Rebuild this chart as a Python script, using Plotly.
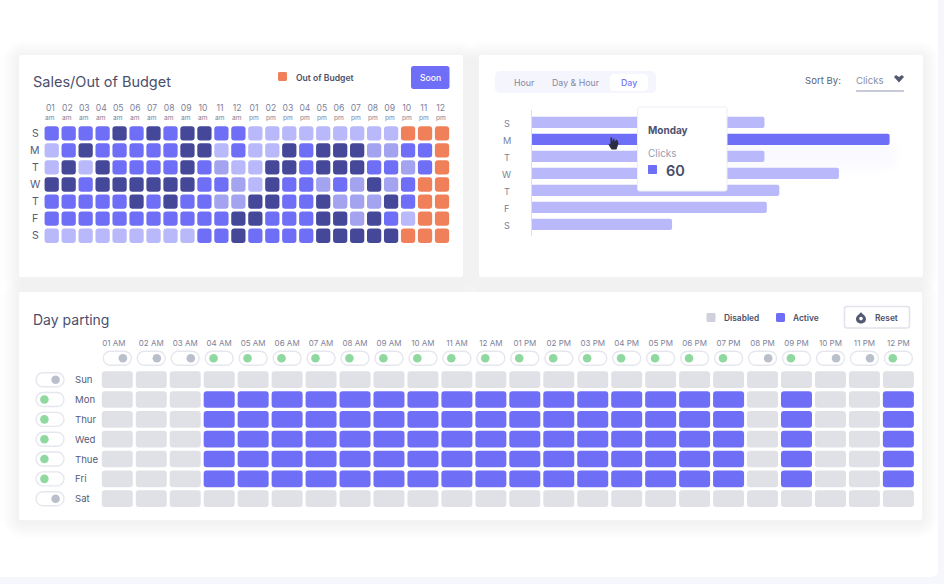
import plotly.graph_objects as go

W, H = 944, 584
FONT = "Inter"
INK = "#4a4f6b"
MUTED = "#7d8299"

# ---------- Sales / Out of Budget ----------
hours_top = ["01","02","03","04","05","06","07","08","09","10","11","12"] * 2
periods_top = ["am"] * 12 + ["pm"] * 12
days_top = ["S", "M", "T", "W", "T", "F", "S"]
# 1 light, 2 soft, 3 main, 4 dark, 5 out of budget
sun_levels = [3,3,3,3,4,3,4,3,4,4,3,3,1,1,1,1,1,1,1,1,1,5,5,5]
mon_levels = [1,3,4,3,3,3,3,3,4,4,1,3,1,1,4,3,4,4,4,2,2,3,3,5]
tue_levels = [1,4,1,4,3,3,3,3,4,3,2,1,1,4,4,3,4,4,4,3,3,2,3,5]
wed_levels = [4,4,3,4,4,4,4,4,4,3,3,2,1,4,3,3,2,3,2,4,2,3,5,5]
thu_levels = [3,3,3,3,3,4,3,4,3,3,2,2,4,4,3,3,4,2,2,2,4,3,5,5]
fri_levels = [3,3,3,3,3,3,3,3,3,3,3,4,4,3,3,3,4,4,2,4,3,1,5,5]
sat_levels = [1,1,1,1,1,1,1,1,1,3,3,4,3,3,3,3,4,4,4,4,4,5,5,5]
level_rows = [sun_levels, mon_levels, tue_levels, wed_levels, thu_levels, fri_levels, sat_levels]
level_colors = {1: "#b8b8fb", 2: "#a3a3f0", 3: "#6f6ef7", 4: "#454898", 5: "#ef8059"}

# ---------- Clicks by day ----------
days_bar = ["S", "M", "T", "W", "T", "F", "S"]
clicks = [39, 60, 39, 51.5, 41.5, 39.4, 23.5]
highlight_day = 1

# ---------- Day parting ----------
hours_part = ["01 AM","02 AM","03 AM","04 AM","05 AM","06 AM","07 AM","08 AM","09 AM","10 AM","11 AM","12 AM",
              "01 PM","02 PM","03 PM","04 PM","05 PM","06 PM","07 PM","08 PM","09 PM","10 PM","11 PM","12 PM"]
days_part = ["Sun", "Mon", "Thur", "Wed", "Thue", "Fri", "Sat"]
hour_toggle = [0,0,0,1,1,1,1,1,1,1,1,1,1,1,1,1,1,1,1,0,1,0,0,1]
day_toggle = [0,1,1,1,1,1,0]
off_row = [0] * 24
on_row = [0,0,0,1,1,1,1,1,1,1,1,1,1,1,1,1,1,1,1,0,1,0,0,1]
active_rows = [off_row, on_row, on_row, on_row, on_row, on_row, off_row]
ACTIVE, DISABLED = "#6f6ef7", "#e0e1e6"
ON_DOT, OFF_DOT = "#8fd9a0", "#b9c0cc"


def X(p): return p / W
def Y(p): return 1 - p / H


K = 0.5523
def rr_path(w, h, r):
    a, b = w / 2, h / 2
    c = r * (1 - K)
    return (f"M {-a+r},{-b} L {a-r},{-b} C {a-c},{-b} {a},{-b+c} {a},{-b+r} "
            f"L {a},{b-r} C {a},{b-c} {a-c},{b} {a-r},{b} "
            f"L {-a+r},{b} C {-a+c},{b} {-a},{b-c} {-a},{b-r} "
            f"L {-a},{-b+r} C {-a},{-b+c} {-a+c},{-b} {-a+r},{-b} Z")


shapes = []
def px_shape(cx, cy, path, fill, line=None, lw=0, layer="below", opacity=1):
    shapes.append(dict(type="path", xref="paper", yref="paper", xsizemode="pixel", ysizemode="pixel",
                       xanchor=X(cx), yanchor=Y(cy), path=path, fillcolor=fill, layer=layer, opacity=opacity,
                       line=dict(color=line or "rgba(0,0,0,0)", width=lw)))


def rr(x0, y0, x1, y1, r, fill, line=None, lw=0, layer="below", opacity=1):
    px_shape((x0 + x1) / 2, (y0 + y1) / 2, rr_path(x1 - x0, y1 - y0, r), fill, line, lw, layer, opacity)


texts = []
def label(x, y, s, size=9, color=INK, anchor="left", weight=400):
    texts.append(dict(x=X(x), y=Y(y), xref="paper", yref="paper", text=s, showarrow=False, xanchor=anchor,
                      yanchor="middle", font=dict(family=FONT, size=size, color=color, weight=weight),
                      borderpad=0, borderwidth=0))


def soft(x0, y0, x1, y1, r=4, layer="below", steps=6, spread=2.6, dy=2, alpha=0.006, color="#000000"):
    for i in range(steps, 0, -1):
        g = i * spread
        rr(x0 - g, y0 - g + dy, x1 + g, y1 + g + dy, r + g, color, layer=layer, opacity=alpha)


# page
rr(-12, -12, 938, 577, 7, "#ffffff")

# cards
for box in [(19, 55, 463, 277), (479, 55, 923, 277), (19, 292, 922, 520)]:
    soft(*box)
    rr(*box, 2, "#ffffff")

# ---- panel 1 furniture
label(33, 82.5, "Sales/Out of Budget", 14.5)
rr(278, 72, 287, 81, 1.5, level_colors[5])
label(295.5, 77.5, "Out of Budget", 8.6, "#4b5068", weight=600)
rr(411, 66, 449.5, 89, 2.5, "#6f6ef7")
label(430, 77.5, "Soon", 8.6, "#ffffff", "center", 500)

# ---- panel 2 furniture
rr(495, 71, 656, 93, 5, "#f5f5fe")
rr(610, 74, 648, 91, 4, "#ffffff")
label(524.5, 83, "Hour", 8.8, "#8388a0", "center")
label(576, 83, "Day & Hour", 8.8, "#8388a0", "center")
label(629, 83, "Day", 8.8, "#7676f5", "center", 500)
label(804.5, 80.5, "Sort By:", 9.6, "#5a5f78")
label(856, 80.5, "Clicks", 9.6, "#8a8ea3")
rr(856, 90, 904, 92, 0.5, "#c7cad8")
px_shape(899, 79, "M -5,2 L -3,4 L 0,2 L 3,4 L 5,2 L 0,-3.5 Z", "#545972")

# soft glow beneath the highlighted bar and tooltip
soft(640, 146, 885, 155, 6, steps=6, spread=3, dy=3, alpha=0.005, color="#5a5ae0")
rr(637.5, 107, 727, 191, 2, "#ffffff", "#eceef4", 1, layer="above")
rr(648, 165, 657, 174, 1, "#6f6ef7", layer="above")
label(648, 130.5, "Monday", 10, "#4d5270", weight=700)
label(648, 153, "Clicks", 10, "#9a9db0")
label(665.5, 170.5, "60", 14.5, "#474c68", weight=600)
# pointer
px_shape(613.5, 143.5,
         "M -3,6 L -1.5,6 L -1,2 L 0,5 L 1,5 L 1,2 L 3,4 L 4,3 L 5,0 L 4,-3 L 3,-6 L -2,-6 L -5,-1 L -4,0 L -3,-1 Z",
         "#2b2d42", layer="above")

# ---- panel 3 furniture
label(33, 319.5, "Day parting", 14)
rr(706.5, 313, 715.5, 322, 1.5, "#cfd0dc")
label(723.5, 318, "Disabled", 8.4, "#4b5068", weight=600)
rr(776, 313, 785, 322, 1.5, "#6f6ef7")
label(793, 318, "Active", 8.4, "#4b5068", weight=600)
rr(844.5, 306.5, 909.5, 328, 2.5, "#ffffff", "#e1e4ec", 1.6)
px_shape(861, 318, "M 0,6 C 1,4 5,2.5 5,-1 C 5,-4 2.5,-5.5 0,-5.5 C -2.5,-5.5 -5,-4 -5,-1 C -5,2.5 -1,4 0,6 Z", "#545a74")
px_shape(861, 318.5, rr_path(3.6, 3.6, 1.8), "#ffffff")
label(875, 318, "Reset", 8.4, "#4b5068", weight=600)

fig = go.Figure()


def cells(xaxis, yaxis, cols, rows, colors, width, height, radius):
    """One floating bar per cell: a bar with a base rounds both of its ends."""
    fig.add_trace(go.Bar(x=cols, y=[height] * len(cols), base=[r - height / 2 for r in rows], width=width,
                         marker=dict(color=colors, line=dict(width=0), cornerradius=radius),
                         xaxis=xaxis, yaxis=yaxis, showlegend=False, hoverinfo="skip"))


# ---- panel 1 grid
c1, r1, col_fill = [], [], []
for r, row in enumerate(level_rows):
    for c, v in enumerate(row):
        c1.append(c); r1.append(r); col_fill.append(level_colors[v])
cells("x", "y", c1, r1, col_fill, 0.84, 0.84, 3)

# pitch 16.97 x 17.07 px, first cell centre (51.7, 133.3)
P1X, P1Y, O1X, O1Y = 16.97, 17.07, 51.7, 133.3
x1_d = (40, 452); y1_d = (113.5, 246)
rng = lambda a, o, p: (a - o) / p
xaxis1 = dict(domain=[X(x1_d[0]), X(x1_d[1])], range=[rng(x1_d[0], O1X, P1X), rng(x1_d[1], O1X, P1X)],
              side="top", anchor="y", tickmode="array", tickvals=[c - 0.08 for c in range(24)], ticktext=hours_top,
              tickfont=dict(family=FONT, size=8.6, color=MUTED), showgrid=False, zeroline=False, ticklen=0)
yaxis1 = dict(domain=[Y(y1_d[1]), Y(y1_d[0])], range=[rng(y1_d[1], O1Y, P1Y), rng(y1_d[0], O1Y, P1Y)],
              anchor="x", showgrid=False, zeroline=False, showticklabels=False, ticklen=0)
for c, s in enumerate(periods_top):
    texts.append(dict(x=c - 0.08, y=(117.7 - O1Y) / P1Y, xref="x", yref="y", text=s, showarrow=False, xanchor="center",
                      font=dict(family=FONT, size=6.6, color=MUTED)))
for r, s in enumerate(days_top):
    texts.append(dict(x=X(35), y=r, xref="paper", yref="y", text=s, showarrow=False, xanchor="center",
                      font=dict(family=FONT, size=10.5, color="#565b76")))

# ---- panel 2 bars
fig.add_trace(go.Bar(x=clicks, y=list(range(7)), orientation="h", width=0.66, xaxis="x2", yaxis="y2",
                     marker=dict(color=["#6f6ef7" if i == highlight_day else "#b8b8fb" for i in range(7)],
                                 line=dict(width=0), cornerradius=2), showlegend=False, hoverinfo="skip"))
P2Y, O2Y = 17.0, 122.3
xaxis2 = dict(domain=[X(532), X(905)], range=[0, (905 - 532) / 5.96], anchor="y2", visible=False)
yaxis2 = dict(domain=[Y(236), Y(110)], range=[rng(236, O2Y, P2Y), rng(110, O2Y, P2Y)], anchor="x2",
              showline=True, linecolor="#dcdee8", linewidth=1, showgrid=False, zeroline=False,
              showticklabels=False, ticklen=0)
for r, s in enumerate(days_bar):
    texts.append(dict(x=X(507), y=r, xref="paper", yref="y2", yshift=-1.5, text=s, showarrow=False, xanchor="center",
                      font=dict(family=FONT, size=9.2, color="#7a7f97")))

# ---- panel 3 grid
c3, r3, fill3 = [], [], []
for r, row in enumerate(active_rows):
    for c, v in enumerate(row):
        c3.append(c); r3.append(r); fill3.append(ACTIVE if v else DISABLED)
cells("x3", "y3", c3, r3, fill3, 0.913, 0.84, 3)

P3X, P3Y, O3X, O3Y = 33.96, 19.83, 117.3, 379.7
x3_d = (28, 916); y3_d = (349, 508)
xaxis3 = dict(domain=[X(x3_d[0]), X(x3_d[1])], range=[rng(x3_d[0], O3X, P3X), rng(x3_d[1], O3X, P3X)],
              side="top", anchor="y3", tickmode="array", tickvals=[-0.1] + list(range(1, 24)), ticktext=hours_part,
              tickfont=dict(family=FONT, size=8, color=MUTED), showgrid=False, zeroline=False, ticklen=0)
yaxis3 = dict(domain=[Y(y3_d[1]), Y(y3_d[0])], range=[rng(y3_d[1], O3Y, P3Y), rng(y3_d[0], O3Y, P3Y)],
              anchor="x3", showgrid=False, zeroline=False, showticklabels=False, ticklen=0)

pill = rr_path(28, 14, 7)
toggle_row_y = (358.3 - O3Y) / P3Y
day_toggle_x = (50 - O3X) / P3X
for c, on in enumerate(hour_toggle):
    shapes.append(dict(type="path", xref="x3", yref="y3", xsizemode="pixel", ysizemode="pixel",
                       xanchor=c, yanchor=toggle_row_y, path=pill, fillcolor="#ffffff", layer="below",
                       line=dict(color="#e6e7ee", width=1.4)))
for r, on in enumerate(day_toggle):
    shapes.append(dict(type="path", xref="x3", yref="y3", xsizemode="pixel", ysizemode="pixel",
                       xanchor=day_toggle_x, yanchor=r, path=pill, fillcolor="#ffffff", layer="below",
                       line=dict(color="#e6e7ee", width=1.4)))

DOT = 5.6 / P3X
fig.add_trace(go.Scatter(x=[c + (-DOT if on else DOT) for c, on in enumerate(hour_toggle)],
                         y=[toggle_row_y] * 24, mode="markers", xaxis="x3", yaxis="y3", cliponaxis=False,
                         marker=dict(size=8.6, color=[ON_DOT if on else OFF_DOT for on in hour_toggle]),
                         showlegend=False, hoverinfo="skip"))
fig.add_trace(go.Scatter(x=[day_toggle_x + (-DOT if on else DOT) for on in day_toggle],
                         y=list(range(7)), mode="markers", xaxis="x3", yaxis="y3", cliponaxis=False,
                         marker=dict(size=8.6, color=[ON_DOT if on else OFF_DOT for on in day_toggle]),
                         showlegend=False, hoverinfo="skip"))
for r, s in enumerate(days_part):
    texts.append(dict(x=X(72.5), y=r, xref="paper", yref="y3", text=s, showarrow=False, xanchor="left",
                      font=dict(family=FONT, size=9.6, color="#565b76")))

fig.update_layout(width=W, height=H, autosize=False, margin=dict(l=0, r=0, t=0, b=0, pad=0),
                  paper_bgcolor="#f6f7fc", plot_bgcolor="rgba(0,0,0,0)", barmode="overlay",
                  xaxis=xaxis1, yaxis=yaxis1, xaxis2=xaxis2, yaxis2=yaxis2, xaxis3=xaxis3, yaxis3=yaxis3,
                  shapes=shapes, annotations=texts, font=dict(family=FONT), hovermode=False)

fig.write_html("out.html", config=dict(displayModeBar=False),
               post_script="document.body.style.margin='0';document.body.style.overflow='hidden';")
